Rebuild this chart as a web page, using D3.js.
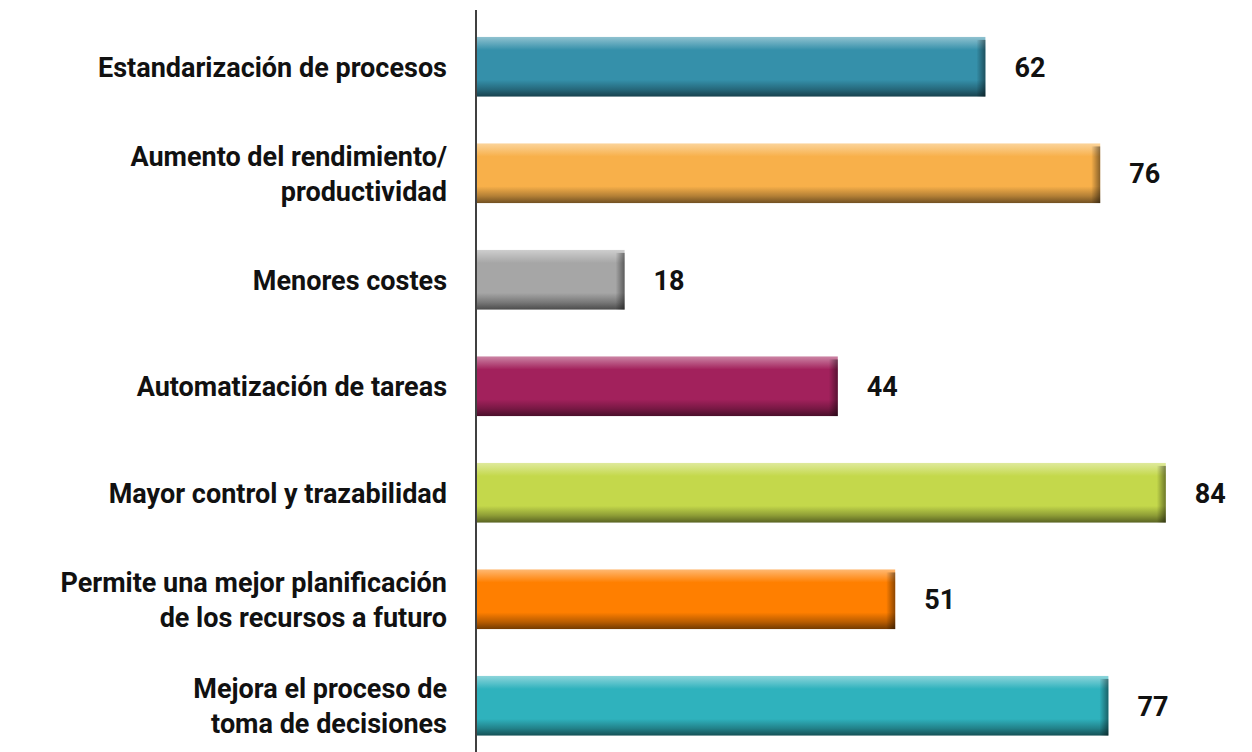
<!DOCTYPE html>
<html>
<head>
<meta charset="utf-8">
<script src="https://cdn.jsdelivr.net/npm/d3@7"></script>
<style>
  body { margin: 0; background: #fff; }
  svg { display: block; }
  text { font-family: Roboto, "Open Sans", sans-serif; font-weight: 700; fill: #111; }
</style>
</head>
<body>
<svg width="1252" height="752"></svg>
<script>
// categories, each label split on lines
const categories = [
  ['Estandarización de procesos'],
  ['Aumento del rendimiento/', 'productividad'],
  ['Menores costes'],
  ['Automatización de tareas'],
  ['Mayor control y trazabilidad'],
  ['Permite una mejor planificación', 'de los recursos a futuro'],
  ['Mejora el proceso de', 'toma de decisiones']
]
const values = [62, 76, 18, 44, 84, 51, 77]
const colors = ['#3590aa', '#f8b04a', '#a6a6a6', '#a2215c', '#c4d84b', '#ff7f00', '#2fb2bd']

const svg = d3.select('svg')
const x0 = 477
const fs = 27

const x = d3.scaleLinear().domain([0, 100]).range([x0, x0 + 820])
const y = d3.scaleBand()
  .domain(d3.range(categories.length))
  .range([13.5, 759])
  .paddingInner(0.44)
  .paddingOuter(0.22)

const defs = svg.append('defs')

// one vertical gradient per colour: light top edge, dark bottom edge
colors.forEach(function (c, i) {
  const base = d3.color(c)
  const g = defs.append('linearGradient')
    .attr('id', 'vg' + i)
    .attr('x1', 0).attr('y1', 0).attr('x2', 0).attr('y2', 1)
  const stops = [
    [0, d3.interpolateRgb(c, '#fff')(0.45)],
    [0.22, c],
    [0.72, c],
    [0.88, base.darker(0.9)],
    [1, base.darker(2.2)]
  ]
  stops.forEach(function (s) {
    g.append('stop').attr('offset', s[0]).attr('stop-color', s[1])
  })
})

// darkening on the right end of every bar
const hg = defs.append('linearGradient')
  .attr('id', 'rightShade')
  .attr('x1', 0).attr('y1', 0).attr('x2', 1).attr('y2', 0)
hg.append('stop').attr('offset', 0).attr('stop-color', '#000').attr('stop-opacity', 0)
hg.append('stop').attr('offset', 1).attr('stop-color', '#000').attr('stop-opacity', 0.45)

const bars = svg.append('g')
  .selectAll('g')
  .data(values)
  .enter().append('g')

bars.append('rect')
  .attr('x', x(0))
  .attr('y', function (d, i) { return y(i) })
  .attr('width', function (d) { return x(d) - x(0) })
  .attr('height', y.bandwidth())
  .attr('fill', function (d, i) { return 'url(#vg' + i + ')' })

bars.append('rect')
  .attr('x', function (d) { return x(d) - 9 })
  .attr('y', function (d, i) { return y(i) + 3 })
  .attr('width', 9)
  .attr('height', y.bandwidth() - 3)
  .attr('fill', 'url(#rightShade)')

// value labels
bars.append('text')
  .attr('x', function (d) { return x(d) + 29 })
  .attr('y', function (d, i) { return y(i) + y.bandwidth() / 2 + 10 })
  .attr('font-size', fs)
  .text(function (d) { return d })

// category labels
const labels = svg.append('g')
  .selectAll('text')
  .data(categories)
  .enter().append('text')
  .attr('text-anchor', 'end')
  .attr('font-size', fs)
  .attr('y', function (d, i) { return y(i) + y.bandwidth() / 2 + 10 })

labels.selectAll('tspan')
  .data(function (d) { return d.map(function (t, j) { return { t: t, j: j, n: d.length } }) })
  .enter().append('tspan')
  .attr('x', 447)
  .attr('dy', function (d) { return d.j === 0 ? -(d.n - 1) * 17.5 : 35 })
  .text(function (d) { return d.t })

// vertical axis line
svg.append('line')
  .attr('x1', 476).attr('x2', 476)
  .attr('y1', 10).attr('y2', 752)
  .attr('stroke', '#000')
  .attr('stroke-width', 1.5)
</script>
</body>
</html>
